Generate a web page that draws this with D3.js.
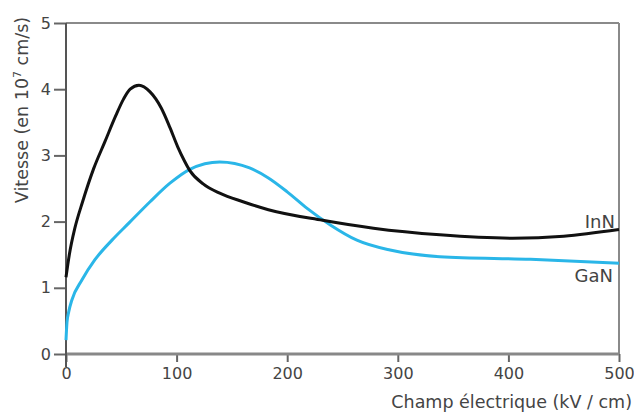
<!DOCTYPE html>
<html><head><meta charset="utf-8">
<script src="https://cdn.jsdelivr.net/npm/d3@7"></script>
<style>body{margin:0;background:#fff}svg{display:block}text{font-family:"DejaVu Sans",Verdana,sans-serif}</style>
</head><body><svg id="c" width="634" height="412"></svg>
<script>
const xTicks = [0, 100, 200, 300, 400, 500];
const yTicks = [0, 1, 2, 3, 4, 5];
const innX = [0, 3, 8, 15, 25, 35, 45, 52, 58, 66, 76, 86, 94, 101, 107, 112, 124, 139, 160, 183, 232, 278, 338, 404, 450, 500];
const innY = [1.16, 1.5, 1.9, 2.3, 2.8, 3.2, 3.6, 3.85, 4.0, 4.06, 3.96, 3.72, 3.42, 3.13, 2.92, 2.77, 2.57, 2.43, 2.3, 2.18, 2.02, 1.9, 1.8, 1.75, 1.78, 1.88];
const ganX = [0, 0.9, 2.5, 5.4, 14.5, 26, 41.6, 57, 76, 94, 112, 139, 166, 183, 200, 218, 239, 263, 293, 338, 420, 500];
const ganY = [0.21, 0.48, 0.64, 0.82, 1.12, 1.42, 1.72, 1.98, 2.3, 2.58, 2.79, 2.9, 2.81, 2.66, 2.45, 2.2, 1.95, 1.72, 1.57, 1.47, 1.43, 1.37];

const svg = d3.select("#c");
const x = d3.scaleLinear().domain([0, 500]).range([66, 619]);
const y = d3.scaleLinear().domain([0, 5]).range([354, 23]);
const FONT = "DejaVu Sans, Verdana, sans-serif";

// frame
svg.append("line").attr("x1", x(0)).attr("x2", x(500)).attr("y1", y(5)).attr("y2", y(5)).attr("stroke", "#8a8a8a").attr("stroke-width", 2);
svg.append("line").attr("x1", x(500)).attr("x2", x(500)).attr("y1", y(5)).attr("y2", y(0)).attr("stroke", "#8a8a8a").attr("stroke-width", 2);

// y axis
const ya = svg.append("g").attr("transform", `translate(${x(0)},0)`)
  .call(d3.axisLeft(y).tickValues(yTicks).tickFormat(d3.format("d")).tickSize(12).tickPadding(3));
ya.select(".domain").remove();
ya.selectAll(".tick line").attr("stroke", "#666").attr("stroke-width", 2);
ya.selectAll(".tick text").attr("fill", "#444").attr("font-size", 16).style("font-family", FONT);

// x axis
const xa = svg.append("g").attr("transform", `translate(0,${y(0)})`)
  .call(d3.axisBottom(x).tickValues(xTicks).tickFormat(d3.format("d")).tickSize(8).tickPadding(6));
xa.select(".domain").remove();
xa.selectAll(".tick line").attr("stroke", "#666").attr("stroke-width", 2);
xa.selectAll(".tick text").attr("fill", "#444").attr("font-size", 16).style("font-family", FONT);

svg.append("line").attr("x1", x(0)).attr("x2", x(500)).attr("y1", y(0)).attr("y2", y(0)).attr("stroke", "#888").attr("stroke-width", 3);
svg.append("line").attr("x1", x(0)).attr("x2", x(0)).attr("y1", y(5)).attr("y2", y(0) + 13).attr("stroke", "#555").attr("stroke-width", 2);

const line = d3.line().x(d => x(d[0])).y(d => y(d[1])).curve(d3.curveMonotoneX);
svg.append("path").datum(ganX.map((v, i) => [v, ganY[i]])).attr("d", line)
  .attr("fill", "none").attr("stroke", "#2ab6e8").attr("stroke-width", 3);
svg.append("path").datum(innX.map((v, i) => [v, innY[i]])).attr("d", line)
  .attr("fill", "none").attr("stroke", "#111").attr("stroke-width", 3);

// labels
svg.append("text").attr("x", 615).attr("y", 228).attr("text-anchor", "end").attr("font-size", 18).attr("fill", "#444").text("InN");
svg.append("text").attr("x", 613).attr("y", 282).attr("text-anchor", "end").attr("font-size", 18).attr("fill", "#444").text("GaN");

svg.append("text").attr("x", 632).attr("y", 408).attr("text-anchor", "end").attr("font-size", 17.5).attr("fill", "#444").text("Champ électrique (kV / cm)");

const yt = svg.append("text").attr("transform", "translate(28,110) rotate(-90)").attr("text-anchor", "middle").attr("font-size", 17.5).attr("fill", "#444");
yt.append("tspan").text("Vitesse (en 10");
yt.append("tspan").attr("font-size", 11).attr("dy", -7).text("7");
yt.append("tspan").attr("dy", 7).text(" cm/s)");
</script></body></html>
